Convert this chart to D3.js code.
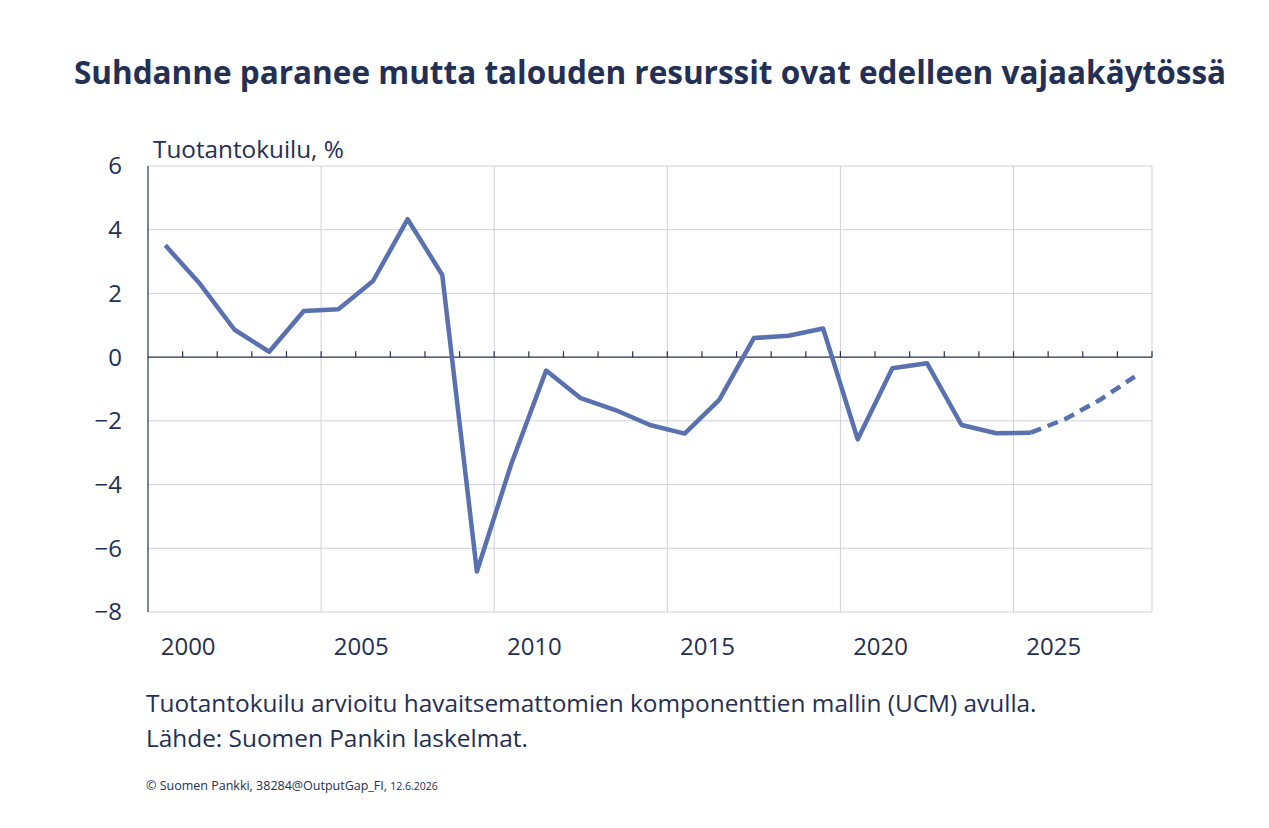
<!DOCTYPE html>
<html>
<head>
<meta charset="utf-8">
<script src="https://cdn.jsdelivr.net/npm/d3@7"></script>
<style>
  body { margin: 0; background: #fff; }
  text { font-family: "Open Sans", Lato, sans-serif; fill: #232f55; }
</style>
</head>
<body>
<svg id="chart"></svg>
<script>
// Tuotantokuilu (output gap), % — Suomen Pankki
const years = d3.range(2000, 2029);
const gap = [3.51, 2.3, 0.86, 0.17, 1.45, 1.5, 2.39, 4.33, 2.58, -6.73,
  -3.33, -0.42, -1.29, -1.66, -2.13, -2.4, -1.34, 0.6, 0.67, 0.9,
  -2.58, -0.35, -0.19, -2.13, -2.39, -2.37, -1.94, -1.34, -0.61];
const lastActual = 2025;
const yTicks = [6, 4, 2, 0, -2, -4, -6, -8];
const xLabels = [2000, 2005, 2010, 2015, 2020, 2025];

const W = 1269, H = 828;
const margin = { top: 166, right: 117, bottom: 216, left: 148 },
    width = W - margin.left - margin.right,
    height = H - margin.top - margin.bottom;

const svgRoot = d3.select("#chart").attr("width", W).attr("height", H);

svgRoot.append("text")
    .attr("x", 650)
    .attr("y", 84)
    .attr("text-anchor", "middle")
    .style("font-size", "31.5px")
    .style("font-weight", "bold")
    .text("Suhdanne paranee mutta talouden resurssit ovat edelleen vajaakäytössä");

const svg = svgRoot.append("g")
    .attr("transform", `translate(${margin.left},${margin.top})`);

const x = d3.scaleBand().domain(years).range([0, width]);
const y = d3.scaleLinear().domain([-8, 6]).range([height, 0]);
const bw = x.bandwidth();

// horizontal gridlines
svg.append("g")
    .selectAll("line")
    .data(yTicks.filter(d => d !== 0))
    .enter().append("line")
    .attr("x1", 0).attr("x2", width)
    .attr("y1", d => y(d)).attr("y2", d => y(d))
    .attr("stroke", "#cfd0da").attr("stroke-width", 1);

// vertical gridlines every 5 years + right edge
svg.append("g")
    .selectAll("line")
    .data([2005, 2010, 2015, 2020, 2025])
    .enter().append("line")
    .attr("x1", d => x(d)).attr("x2", d => x(d))
    .attr("y1", 0).attr("y2", height)
    .attr("stroke", "#cfd0da").attr("stroke-width", 1);

svg.append("line")
    .attr("x1", width).attr("x2", width)
    .attr("y1", 0).attr("y2", height)
    .attr("stroke", "#cfd0da");

// left axis
svg.append("line")
    .attr("x1", 0).attr("x2", 0)
    .attr("y1", 0).attr("y2", height)
    .attr("stroke", "#232f55").attr("stroke-width", 1.2);

svg.append("g")
    .selectAll("text")
    .data(yTicks)
    .enter().append("text")
    .attr("x", -26)
    .attr("y", d => y(d))
    .attr("dy", "0.35em")
    .attr("text-anchor", "end")
    .style("font-size", "24px")
    .text(d => d < 0 ? "\u2212" + Math.abs(d) : d);

svg.append("text")
    .attr("x", 5)
    .attr("y", -8)
    .style("font-size", "24.3px")
    .text("Tuotantokuilu, %");

// zero line with tick marks between years
svg.append("line")
    .attr("x1", 0).attr("x2", width)
    .attr("y1", y(0)).attr("y2", y(0))
    .attr("stroke", "#232f55").attr("stroke-width", 1.2);

svg.append("g")
    .selectAll("line")
    .data(years.slice(1).concat([2029]))
    .enter().append("line")
    .attr("x1", (d, i) => (i + 1) * bw).attr("x2", (d, i) => (i + 1) * bw)
    .attr("y1", y(0) - 6).attr("y2", y(0))
    .attr("stroke", "#232f55").attr("stroke-width", 1.2);

// x labels
svg.append("g")
    .selectAll("text")
    .data(xLabels)
    .enter().append("text")
    .attr("x", d => x(d) + bw * 1.16)
    .attr("y", height + 35)
    .attr("dy", "0.35em")
    .attr("text-anchor", "middle")
    .style("font-size", "24px")
    .text(d => d);

const series = years.map((yr, i) => ({ year: yr, value: gap[i] }));
const line = d3.line()
    .x(d => x(d.year) + bw / 2)
    .y(d => y(d.value));

svg.append("path")
    .datum(series.filter(d => d.year <= lastActual))
    .attr("fill", "none")
    .attr("stroke", "#5a71b1")
    .attr("stroke-width", 4.5)
    .attr("stroke-linejoin", "round")
    .attr("d", line);

svg.append("path")
    .datum(series.filter(d => d.year >= lastActual))
    .attr("fill", "none")
    .attr("stroke", "#5a71b1")
    .attr("stroke-width", 4.5)
    .attr("stroke-dasharray", "11,7")
    .attr("d", line);

// notes
svgRoot.append("text")
    .attr("x", 146).attr("y", 712)
    .style("font-size", "24.4px")
    .text("Tuotantokuilu arvioitu havaitsemattomien komponenttien mallin (UCM) avulla.");

svgRoot.append("text")
    .attr("x", 146).attr("y", 747)
    .style("font-size", "24.4px")
    .text("Lähde: Suomen Pankin laskelmat.");

const foot = svgRoot.append("text")
    .attr("x", 146).attr("y", 790)
    .style("font-size", "12.5px");
foot.append("tspan").text("© Suomen Pankki, 38284@OutputGap_FI, ");
foot.append("tspan").style("font-size", "10.5px").text("12.6.2026");
</script>
</body>
</html>
